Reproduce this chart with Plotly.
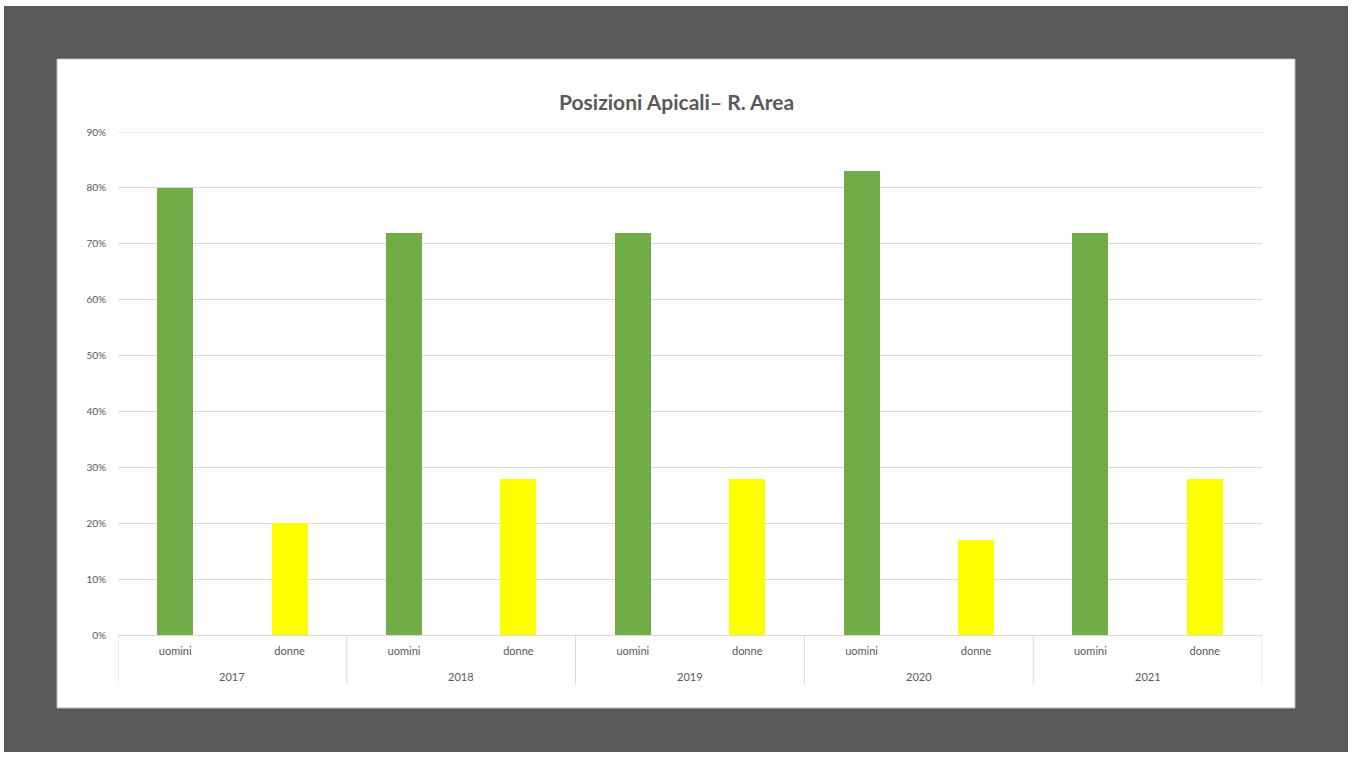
import plotly.graph_objects as go

# Data
years = ["2017", "2018", "2019", "2020", "2021"]
groups = ["uomini", "donne"]
uomini = [80, 72, 72, 83, 72]
donne = [20, 28, 28, 17, 28]
y_ticks = [0, 10, 20, 30, 40, 50, 60, 70, 80, 90]

W, H = 1354, 758
L, R, T, B = 118, 1262, 132, 635  # plot area in pixels
PW, PH = R - L, B - T


def px(x):
    return (x - L) / PW


def py(y):
    return (B - y) / PH


font = "Lato, 'Open Sans', sans-serif"
txt = "#595959"
grid = "#d9d9d9"

x_u = [2 * i for i in range(len(years))]
x_d = [2 * i + 1 for i in range(len(years))]

fig = go.Figure()
fig.add_trace(go.Bar(x=x_u, y=uomini, width=0.315, marker=dict(color="#70ad47", line=dict(width=0)),
                     name="uomini", showlegend=False))
fig.add_trace(go.Bar(x=x_d, y=donne, width=0.315, marker=dict(color="#ffff00", line=dict(width=0)),
                     name="donne", showlegend=False))

shapes = [
    # dark frame
    dict(type="rect", xref="paper", yref="paper", x0=px(4), x1=px(1348), y0=py(752), y1=py(6),
         fillcolor="#595959", line=dict(width=0), layer="below"),
    # white chart panel
    dict(type="rect", xref="paper", yref="paper", x0=px(57), x1=px(1295), y0=py(708), y1=py(59),
         fillcolor="white", line=dict(color="#bfbfbf", width=1), layer="below"),
    # top gridline at the axis maximum
    dict(type="line", xref="paper", yref="y", x0=0, x1=1, y0=y_ticks[-1], y1=y_ticks[-1],
         line=dict(color=grid, width=1), layer="below"),
]
# group dividers under the category axis
for k in range(len(years) + 1):
    xv = 2 * k - 0.5
    shapes.append(dict(type="line", xref="x", yref="paper", x0=xv, x1=xv, y0=0, y1=py(684),
                       line=dict(color=grid, width=1), layer="above"))

annotations = [
    dict(text="<b>Posizioni Apicali– R. Area</b>", xref="paper", yref="paper",
         x=px(676), y=py(101), showarrow=False, xanchor="center", yanchor="middle",
         font=dict(family=font, size=21, color=txt)),
]
for i, yr in enumerate(years):
    annotations.append(dict(text=yr, xref="x", yref="paper", x=2 * i + 0.5, y=py(676),
                            showarrow=False, xanchor="center", yanchor="middle",
                            font=dict(family=font, size=11, color=txt)))

fig.update_layout(
    width=W, height=H,
    margin=dict(l=L, r=W - R, t=T, b=H - B, pad=0),
    paper_bgcolor="white",
    plot_bgcolor="rgba(0,0,0,0)",
    bargap=0,
    shapes=shapes,
    annotations=annotations,
    xaxis=dict(
        range=[-0.5, 9.5], tickmode="array", tickvals=x_u + x_d,
        ticktext=[groups[0]] * len(years) + [groups[1]] * len(years),
        showgrid=False, zeroline=False, showline=True, linecolor=grid, linewidth=1,
        ticks="outside", ticklen=6, tickcolor="rgba(0,0,0,0)",
        tickfont=dict(family=font, size=11, color=txt), fixedrange=True,
    ),
    yaxis=dict(
        range=[0, 90], tickmode="array", tickvals=y_ticks,
        ticktext=[f"{v}%" for v in y_ticks],
        showgrid=True, gridcolor=grid, gridwidth=1, zeroline=False, showline=False,
        ticks="outside", ticklen=9, tickcolor="rgba(0,0,0,0)",
        tickfont=dict(family=font, size=10, color=txt), fixedrange=True,
    ),
)

fig.write_html("out.html")
